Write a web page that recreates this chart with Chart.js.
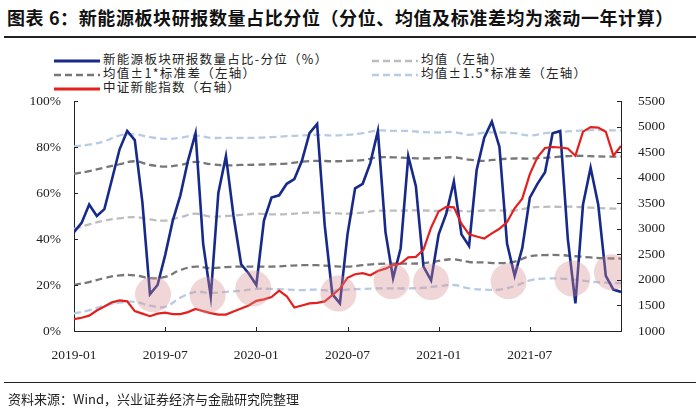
<!DOCTYPE html>
<html>
<head>
<meta charset="utf-8">
<script src="https://cdn.jsdelivr.net/npm/chart.js@4"></script>
<style>
  html, body { margin: 0; padding: 0; background: #fff; }
  #wrap { position: relative; width: 700px; height: 415px; overflow: hidden; font-family: "Noto Sans CJK SC", sans-serif; }
  #chart { position: absolute; left: 0; top: 0; }
  .title { position: absolute; left: 7px; top: 4px; font-size: 18px; font-weight: bold; color: #111; white-space: nowrap; letter-spacing: 0.6px; }
  .rule { position: absolute; left: 4px; right: 4px; height: 0; border-top: 2px solid #222; }
  .legend { position: absolute; font-size: 12.5px; color: #222; white-space: nowrap; letter-spacing: 1.3px; line-height: 14px; }
  .legend svg { vertical-align: middle; margin-right: 3px; }
  .source { position: absolute; left: 8px; top: 389px; font-size: 13px; color: #222; white-space: nowrap; }
</style>
</head>
<body>
<div id="wrap">
  <div class="title">图表 6：新能源板块研报数量占比分位（分位、均值及标准差均为滚动一年计算）</div>
  <div class="rule" style="top:36px"></div>

  <div class="legend" style="left:54px;top:52px">
    <svg width="46" height="6"><line x1="0" y1="3" x2="46" y2="3" stroke="#17298a" stroke-width="3"/></svg>新能源板块研报数量占比-分位（%）
  </div>
  <div class="legend" style="left:372px;top:52px">
    <svg width="46" height="6"><line x1="0" y1="3" x2="46" y2="3" stroke="#bdbdbd" stroke-width="2.5" stroke-dasharray="7 4"/></svg>均值（左轴）
  </div>
  <div class="legend" style="left:54px;top:66px">
    <svg width="46" height="6"><line x1="0" y1="3" x2="46" y2="3" stroke="#777" stroke-width="2.5" stroke-dasharray="7 4"/></svg>均值±1*标准差（左轴）
  </div>
  <div class="legend" style="left:372px;top:66px">
    <svg width="46" height="6"><line x1="0" y1="3" x2="46" y2="3" stroke="#b8cbe4" stroke-width="2.5" stroke-dasharray="7 4"/></svg>均值±1.5*标准差（左轴）
  </div>
  <div class="legend" style="left:54px;top:80px">
    <svg width="46" height="6"><line x1="0" y1="3" x2="46" y2="3" stroke="#e3201e" stroke-width="3"/></svg>中证新能指数（右轴）
  </div>

  <canvas id="chart" width="700" height="415"></canvas>

  <div class="rule" style="top:382px;border-top-width:1.5px"></div>
  <div class="source">资料来源：Wind，兴业证券经济与金融研究院整理</div>
</div>

<script>
// series sampled every half month from 2019-01, bands monthly
const startYear = 2019;
const halfStep = 0.5;

const percentile = [43,47,55,50,53,66,79,87,83,56,16,20,33,48,59,74,86,38,15,60,
  76,50,29,25,20,48,58,59,64,66,74,86,90,46,16,12,42,62,64,73,
  87,43,23,36,76,63,28,22,42,51,65,42,37,70,84,91,80,38,24,36,
  58,64,69,86,87,40,12,55,71,55,24,18,17];

const csiIndex = [1230,1260,1300,1400,1480,1560,1600,1580,1390,1340,1290,1340,1360,1330,1330,1370,
  1430,1390,1350,1320,1320,1380,1440,1500,1590,1620,1665,1790,1680,1460,
  1500,1540,1550,1580,1700,1830,2040,2110,2130,2090,2175,2220,2290,2320,
  2440,2450,2590,3020,3340,3430,3420,3100,2890,2850,2810,2910,3000,3130,
  3400,3590,4070,4400,4580,4600,4590,4570,4430,4900,4990,4980,4900,4430,4620];

const meanVals = [44.4,46.4,48,49,49.5,48.5,48,49.5,51,49.7,50,50.5,51,50.7,50.8,51.3,51.5,51.2,51,51.5,
  52.3,52.3,52.4,52.4,52.2,52.4,52,52.4,52.4,52.4,53.6,54,54,54,53.6,53.3,53.2];
const plus1 = [68.3,69.5,71,72.5,73.8,72.2,71.5,72.2,73.5,72.5,72,72.2,72.3,72.5,72.8,73.6,74,73.8,74,74.3,
  75.5,75.5,75.2,75,75.2,75.5,74.5,74,74.7,75,75,75.3,75.8,76.2,76,75.8,75.8];
const minus1 = [20,21.3,23,24.2,24.2,23,23.5,26.5,28,27.3,27.8,28,28,28,28.3,28.6,28.6,28.2,28,28.6,
  29.2,29.3,29.3,29.5,30.5,31.2,30,29.8,29.5,30.2,32.5,33,33,32.5,32,31.6,31.5];
const plus15 = [80.3,81,82.5,85,85.5,84.3,83.5,84,85,84,84,84,84,84.3,84.7,85,85.3,85,85.3,86,
  87.2,87,87,86.5,86.3,86.5,85.3,86.3,86.3,86,85,86,86.5,87,87.3,87.3,87.2];
const minus15 = [7.6,9,11,12.3,12.7,11,10.5,14.5,17,16.5,17,17.5,18.3,18.3,18,17.8,18,17.5,18,18.3,
  18.5,18.5,18.5,18.8,19.5,20,18.5,18,18,19.5,22,22.8,22.8,22.3,21.5,21,20.8];

// highlighted lows (month offset, percentile)
const circleMonths = [5.2,8.8,11.8,17.4,20.9,23.5,28.6,32.8,35.4];
const circlePct = [15.9,15.6,18.5,16.3,21.6,21.3,21.6,22.8,25.5];

const leftTicks = [0,20,40,60,80,100];
const rightTicks = [1000,1500,2000,2500,3000,3500,4000,4500,5000,5500];

const half = arr => arr.map((v, i) => ({ x: i * halfStep, y: v }));
const monthly = arr => arr.map((v, i) => ({ x: i, y: v }));

function monthLabel(v) {
  if (v >= 36) return null;
  const y = startYear + Math.floor(v / 12);
  const m = (v % 12) + 1;
  return y + '-' + String(m).padStart(2, '0');
}

const band = (data, color) => ({
  type: 'line', data: monthly(data), yAxisID: 'y',
  borderColor: color, borderWidth: 2.3, borderDash: [7, 4],
  pointRadius: 0, tension: 0.4, order: 5
});

// inward tick marks on all three axes
const innerTicks = {
  id: 'innerTicks',
  afterDatasetsDraw(chart) {
    const { ctx, chartArea, scales } = chart;
    ctx.save();
    ctx.strokeStyle = '#222';
    ctx.lineWidth = 1;
    ctx.beginPath();
    scales.y.ticks.forEach(t => {
      const py = Math.round(scales.y.getPixelForValue(t.value)) + 0.5;
      ctx.moveTo(chartArea.left, py); ctx.lineTo(chartArea.left + 4, py);
    });
    scales.y1.ticks.forEach(t => {
      const py = Math.round(scales.y1.getPixelForValue(t.value)) + 0.5;
      ctx.moveTo(chartArea.right, py); ctx.lineTo(chartArea.right - 4, py);
    });
    scales.x.ticks.forEach(t => {
      const px = Math.round(scales.x.getPixelForValue(t.value)) + 0.5;
      ctx.moveTo(px, chartArea.bottom); ctx.lineTo(px, chartArea.bottom - 4);
    });
    ctx.stroke();
    ctx.restore();
  }
};

const tickFont = { family: '"Liberation Serif", "Times New Roman", serif', size: 13.5 };

new Chart(document.getElementById('chart'), {
  data: {
    datasets: [
      {
        type: 'scatter', label: 'lows',
        data: circleMonths.map((m, i) => ({ x: m, y: circlePct[i] })),
        yAxisID: 'y', pointRadius: 18, pointHoverRadius: 18,
        backgroundColor: 'rgba(214,140,140,0.36)', borderWidth: 0, order: 0
      },
      {
        type: 'line', label: '中证新能指数（右轴）', data: half(csiIndex), yAxisID: 'y1',
        borderColor: '#e3201e', borderWidth: 2.2, pointRadius: 0, tension: 0, order: 1
      },
      {
        type: 'line', label: '新能源板块研报数量占比-分位（%）', data: half(percentile), yAxisID: 'y',
        borderColor: '#17298a', borderWidth: 2.6, pointRadius: 0, tension: 0, order: 2
      },
      band(meanVals, '#bdbdbd'),
      band(plus1, '#777777'),
      band(minus1, '#777777'),
      band(plus15, '#b8cbe4'),
      band(minus15, '#b8cbe4')
    ]
  },
  options: {
    responsive: false,
    animation: false,
    layout: { padding: { top: 101, left: 0, right: 0, bottom: 0 } },
    plugins: { legend: { display: false }, tooltip: { enabled: false } },
    scales: {
      x: {
        type: 'linear', min: 0, max: 36,
        afterBuildTicks: s => { s.ticks = [0, 6, 12, 18, 24, 30, 36].map(v => ({ value: v })); },
        grid: { display: false },
        border: { display: true, color: '#222', width: 1 },
        ticks: { color: '#222', font: tickFont, padding: 8, maxRotation: 0, callback: monthLabel },
        afterFit: s => { s.height = 84; }
      },
      y: {
        position: 'left', min: 0, max: 100,
        afterBuildTicks: s => { s.ticks = leftTicks.map(v => ({ value: v })); },
        grid: { display: false },
        border: { display: true, color: '#222', width: 1 },
        ticks: { color: '#222', font: tickFont, padding: 5, callback: v => v + '%' },
        afterFit: s => { s.width = 74; }
      },
      y1: {
        position: 'right', min: 1000, max: 5500,
        afterBuildTicks: s => { s.ticks = rightTicks.map(v => ({ value: v })); },
        grid: { display: false },
        border: { display: true, color: '#222', width: 1 },
        ticks: { color: '#222', font: tickFont, padding: 9, callback: v => String(v) },
        afterFit: s => { s.width = 79; }
      }
    }
  },
  plugins: [innerTicks]
});
</script>
</body>
</html>
